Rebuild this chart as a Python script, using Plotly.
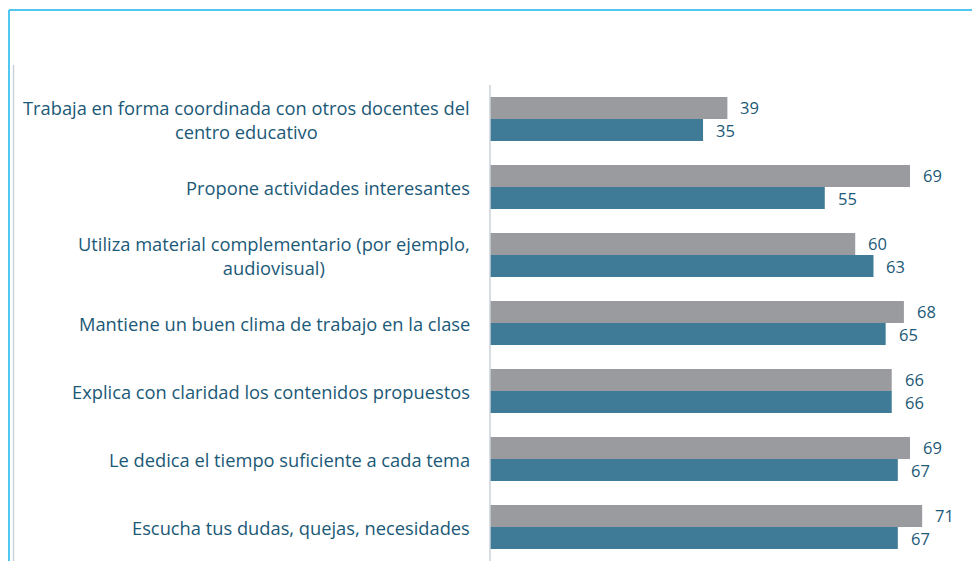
import plotly.graph_objects as go

categories = [
    "Trabaja en forma coordinada con otros docentes del<br>centro educativo",
    "Propone actividades interesantes",
    "Utiliza material complementario (por ejemplo,<br>audiovisual)",
    "Mantiene un buen clima de trabajo en la clase",
    "Explica con claridad los contenidos propuestos",
    "Le dedica el tiempo suficiente a cada tema",
    "Escucha tus dudas, quejas, necesidades",
]
gray_values = [39, 69, 60, 68, 66, 69, 71]
blue_values = [35, 55, 63, 65, 66, 67, 67]

GRAY = "#999b9e"
BLUE = "#3f7b96"
TEXT = "#1b5977"
FONT = "Open Sans"

OFF = 8  # page body margin
W, H = 980 - OFF, 561 - OFF
ML, MR, MT, MB = 490 - OFF, 0, 85 - OFF, 0
pw, ph = W - ML - MR, H - MT - MB

def px_x(x):
    return (x - OFF - ML) / pw

def px_y(y):
    return 1 - (y - OFF - MT) / ph

fig = go.Figure()
fig.add_trace(go.Bar(y=categories, x=gray_values, orientation="h",
                     marker=dict(color=GRAY, line=dict(width=0)), name="A"))
fig.add_trace(go.Bar(y=categories, x=blue_values, orientation="h",
                     marker=dict(color=BLUE, line=dict(width=0)), name="B"))

annotations = []
for c, g, b in zip(categories, gray_values, blue_values):
    annotations.append(dict(x=g, y=c, xref="x", yref="y", text=str(g), showarrow=False,
                            xanchor="left", yanchor="middle", xshift=11, yshift=12,
                            font=dict(family=FONT, size=16.5, color=TEXT)))
    annotations.append(dict(x=b, y=c, xref="x", yref="y", text=str(b), showarrow=False,
                            xanchor="left", yanchor="middle", xshift=11, yshift=-11,
                            font=dict(family=FONT, size=16.5, color=TEXT)))
    annotations.append(dict(x=0, y=c, xref="paper", yref="y", text=c, showarrow=False,
                            xanchor="right", yanchor="middle", xshift=-18, align="center",
                            font=dict(family=FONT, size=18.3, color=TEXT)))

shapes = [
    dict(type="line", xref="paper", yref="paper", x0=px_x(9), x1=px_x(990), y0=px_y(10), y1=px_y(10),
         line=dict(color="#19b4ea", width=1.5)),
    dict(type="line", xref="paper", yref="paper", x0=px_x(9), x1=px_x(9), y0=px_y(10), y1=px_y(570),
         line=dict(color="#19b4ea", width=1.5)),
    dict(type="line", xref="paper", yref="paper", x0=px_x(13.5), x1=px_x(13.5), y0=px_y(65), y1=px_y(570),
         line=dict(color="#c9d3da", width=1.5)),
    dict(type="line", xref="paper", yref="paper", x0=0, x1=0, y0=px_y(85), y1=px_y(570),
         line=dict(color="#c9d3da", width=1.5)),
]

fig.update_layout(
    width=W, height=H,
    margin=dict(l=ML, r=MR, t=MT, b=MB, pad=0),
    paper_bgcolor="white", plot_bgcolor="white",
    barmode="group", bargap=0.355, bargroupgap=0,
    showlegend=False,
    xaxis=dict(range=[0, 80.5], visible=False, fixedrange=True),
    yaxis=dict(autorange="reversed", showticklabels=False, showgrid=False,
               zeroline=False, showline=False, ticks=""),
    annotations=annotations,
    shapes=shapes,
)

fig.write_html("out.html")
